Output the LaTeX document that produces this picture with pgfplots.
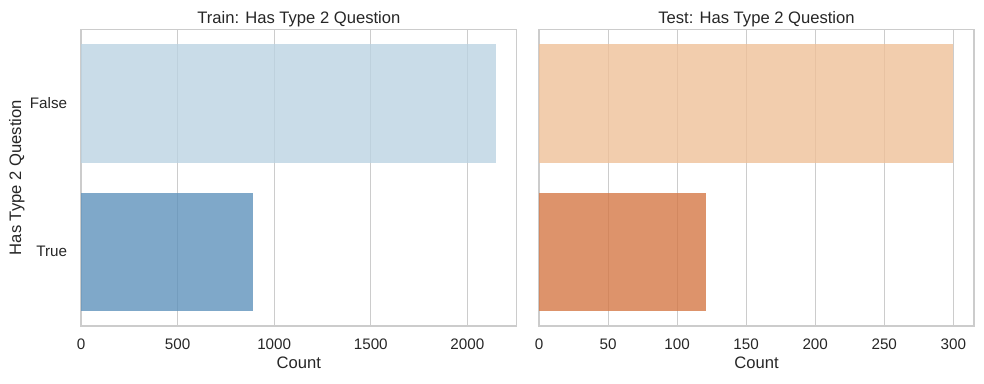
\documentclass[border=0pt]{standalone}
\usepackage{pgfplots}
\pgfplotsset{compat=1.18}
\usepackage{fontspec}
\setmainfont{Liberation Sans}
\definecolor{txt}{HTML}{262626}
\definecolor{gridc}{HTML}{CCCCCC}
\definecolor{lf}{RGB}{187,211,226}
\definecolor{lt}{RGB}{95,146,187}
\definecolor{rf}{RGB}{239,192,152}
\definecolor{rt}{RGB}{212,120,70}
\pgfplotsset{
  base/.style={
    scale only axis,
    anchor=south west,
    height=213.6bp,
    xbar, bar width=0.8, bar shift=0pt,
    y dir=reverse, ymin=-0.5, ymax=1.5,
    ytick={0,1},
    xmin=0,
    xmajorgrids, ymajorgrids=false,
    grid style={gridc, line width=0.75bp},
    axis line style={gridc, line width=0.9bp},
    major tick length=0pt,
    tick label style={font=\fontsize{11}{13}\selectfont, text=txt},
    xticklabel style={yshift=-5.5bp},
    yticklabel style={xshift=-6.5bp},
    label style={font=\fontsize{12}{14}\selectfont, text=txt},
    title style={font=\fontsize{12}{14}\selectfont, text=txt, yshift=-7.5bp},
    /pgf/number format/assume math mode=true,
    /pgf/number format/set thousands separator={},
    xlabel={Count},
    xlabel style={yshift=1.5bp},
    ylabel style={yshift=-3bp},
    every axis plot/.append style={draw=none, fill opacity=0.8},
  }
}
\begin{document}
\begin{tikzpicture}
\useasboundingbox (0,0) rectangle (708.48bp,276.48bp);
\begin{axis}[base,
  at={(58.32bp,41.76bp)}, width=313.7bp,
  xmax=2255.4,
  xtick={0,500,1000,1500,2000},
  yticklabels={False,True},
  ylabel={Has Type 2 Question},
  title={Train: Has Type 2 Question},
]
\addplot[fill=lf] coordinates {(2148,0)};
\addplot[fill=lt] coordinates {(890,1)};
\end{axis}
\begin{axis}[base,
  at={(388.08bp,41.76bp)}, width=313.2bp,
  xmax=315,
  xtick={0,50,100,150,200,250,300},
  yticklabels={},
  title={Test: Has Type 2 Question},
]
\addplot[fill=rf] coordinates {(300,0)};
\addplot[fill=rt] coordinates {(121,1)};
\end{axis}
\end{tikzpicture}
\end{document}
